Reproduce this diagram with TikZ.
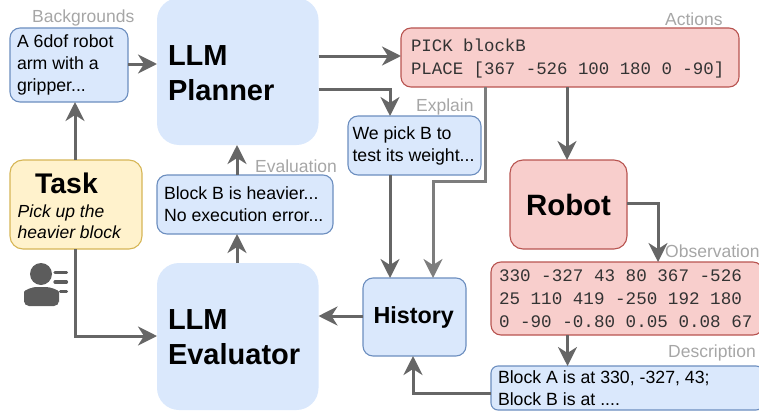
\documentclass[tikz,border=0pt]{standalone}
\usepackage{fontspec}
\setmainfont{Liberation Sans}
\setmonofont{Liberation Mono}
\usetikzlibrary{arrows.meta}
\definecolor{bluefill}{HTML}{DAE8FC}
\definecolor{blueline}{HTML}{6C8EBF}
\definecolor{redfill}{HTML}{F8CECC}
\definecolor{redline}{HTML}{B85450}
\definecolor{yelfill}{HTML}{FFF2CC}
\definecolor{yelline}{HTML}{D6B656}
\definecolor{conn}{HTML}{666666}
\definecolor{lab}{HTML}{A6A6A6}
\newcommand{\sz}[2]{\fontsize{#1}{#2}\selectfont}
\tikzset{
  box/.style={anchor=north west,rounded corners=10,line width=1.1pt,align=left,inner xsep=7,inner ysep=0,outer sep=0},
  bluebox/.style={box,fill=bluefill,draw=blueline,font=\sz{17.7}{22},execute at begin node={\spaceskip=.278em\xspaceskip=.278em}},
  redbox/.style={box,fill=redfill,draw=redline,text=black!80,font=\ttfamily\sz{17.4}{23.5},execute at begin node={\spaceskip=.6em\xspaceskip=.6em}},
  bigbox/.style={anchor=north west,fill=bluefill,rounded corners=22,align=left,inner xsep=11,inner ysep=0,outer sep=0,font=\bfseries\sz{29}{35}},
  lbl/.style={anchor=base west,text=lab,inner sep=0,font=\sz{17.5}{20}},
  arr/.style={draw=conn,line width=3pt,-{Stealth[length=19pt,width=19pt,inset=6pt]}},
}
\begin{document}
\begin{tikzpicture}[x=1pt,y=-1pt]
\useasboundingbox (0,0) rectangle (759,412);
\clip (0,0) rectangle (759,412);
\node[bigbox,minimum width=161.5,minimum height=147,text width=139.5] (planner) at (157,-2) {\rule{0pt}{24pt}LLM\\Planner};
\node[bigbox,minimum width=161.5,minimum height=147,text width=139.5] (evaluator) at (157,263) {\rule{0pt}{22pt}LLM\\Evaluator};
\node[bluebox,minimum width=118,minimum height=74,text width=104] (bg) at (10,28) {A 6dof robot\\arm with a\\gripper...};
\node[bluebox,minimum width=176,minimum height=59,text width=162] (evalbox) at (157,175) {Block B is heavier...\\No execution error...};
\node[bluebox,minimum width=132,minimum height=59,text width=124,inner xsep=4.5] (explain) at (348,116) {We pick B to\\test its weight...};
\node[bluebox,minimum width=103,minimum height=78,text width=89,align=center,font=\bfseries\sz{23.3}{26}] (history) at (363,278) {\raisebox{-3pt}{\hspace{-1.5pt}History}};
\node[bluebox,minimum width=272,minimum height=44,text width=258,rounded corners=7] (desc) at (491,366) {Block A is at 330, -327, 43;\\Block B is at ....};
\node[redbox,minimum width=338,minimum height=59,text width=318,inner xsep=10] (actions) at (401,28) {\rule{0pt}{15pt}PICK blockB\\PLACE [367 -526 100 180 0 -90]};
\node[redbox,minimum width=272,minimum height=73,text width=256,inner xsep=8,font=\ttfamily\sz{17.6}{23.3}] (obs) at (491,262) {330 -327 43 80 367 -526\\25 110 419 -250 192 180\\0 -90 -0.80 0.05 0.08 67};
\node[box,fill=redfill,draw=redline,minimum width=117,minimum height=89,text width=103,align=center,rounded corners=13,font=\bfseries\sz{29.4}{32}] (robot) at (510,160) {\raisebox{-1pt}{Robot}};
\node[box,fill=yelfill,draw=yelline,minimum width=132,minimum height=89,rounded corners=13] (task) at (10,160) {};
\node[anchor=base,inner sep=0,font=\bfseries\sz{28.4}{30}] (tasktitle) at (66.5,193) {Task};
\node[anchor=base west,inner sep=0,font=\itshape\sz{17.5}{21}] (tasktext) at (17.5,217) {Pick up the};
\node[anchor=base west,inner sep=0,font=\itshape\sz{17.5}{21}] (tasktextb) at (17.5,238) {heavier block};
% labels
\node[lbl] (l1) at (32,23) {Backgrounds};
\node[lbl] (l2) at (665,26) {Actions};
\node[lbl] (l3) at (416,111) {Explain};
\node[lbl] (l4) at (255,172) {Evaluation};
\node[lbl] (l5) at (665,257) {Observation};
\node[lbl] (l6) at (668,357) {Description};
% person icon
\fill[conn!90!black] (41,274) circle (11);
\fill[conn!90!black,rounded corners=5] (24,306) -- (24,297) .. controls (24,290) and (33,287) .. (41,287) .. controls (50,287) and (59,290) .. (59,297) -- (59,306) -- cycle;
\draw[conn!90!black,line width=3.2pt,line cap=round] (55,272.7) -- (66.5,272.7) (55,282) -- (66.5,282) (60.5,291.7) -- (66.5,291.7);
% connectors
\draw[arr] (bg.east |- 0,64) -- (planner.west |- 0,64);
\draw[arr] (task.north -| 75,0) -- (bg.south -| 75,0);
\draw[arr] (task.south -| 75,0) -- (75,336) -- (evaluator.west |- 0,336);
\draw[arr] (planner.east |- 0,56) -- (actions.west |- 0,56);
\draw[arr] (planner.east |- 0,89) -- (390,89) -- (explain.north -| 390,0);
\draw[arr] (actions.south -| 567,0) -- (robot.north -| 567,0);
\draw[arr,draw=conn!85!white] (actions.south -| 485,0) -- (485,181) -- (433,181) -- (history.north -| 433,0);
\draw[arr] (explain.south -| 390,0) -- (history.north -| 390,0);
\draw[arr] (history.west |- 0,316) -- (evaluator.east |- 0,316);
\draw[arr] (evaluator.north -| 237,0) -- (evalbox.south -| 237,0);
\draw[arr] (evalbox.north -| 237,0) -- (planner.south -| 237,0);
\draw[arr] (robot.east |- 0,203) -- (658,203) -- (obs.north -| 658,0);
\draw[arr] (obs.south -| 567.5,0) -- (desc.north -| 567.5,0);
\draw[arr] (desc.west |- 0,393) -- (413,393) -- (history.south -| 413,0);
\end{tikzpicture}
\end{document}
